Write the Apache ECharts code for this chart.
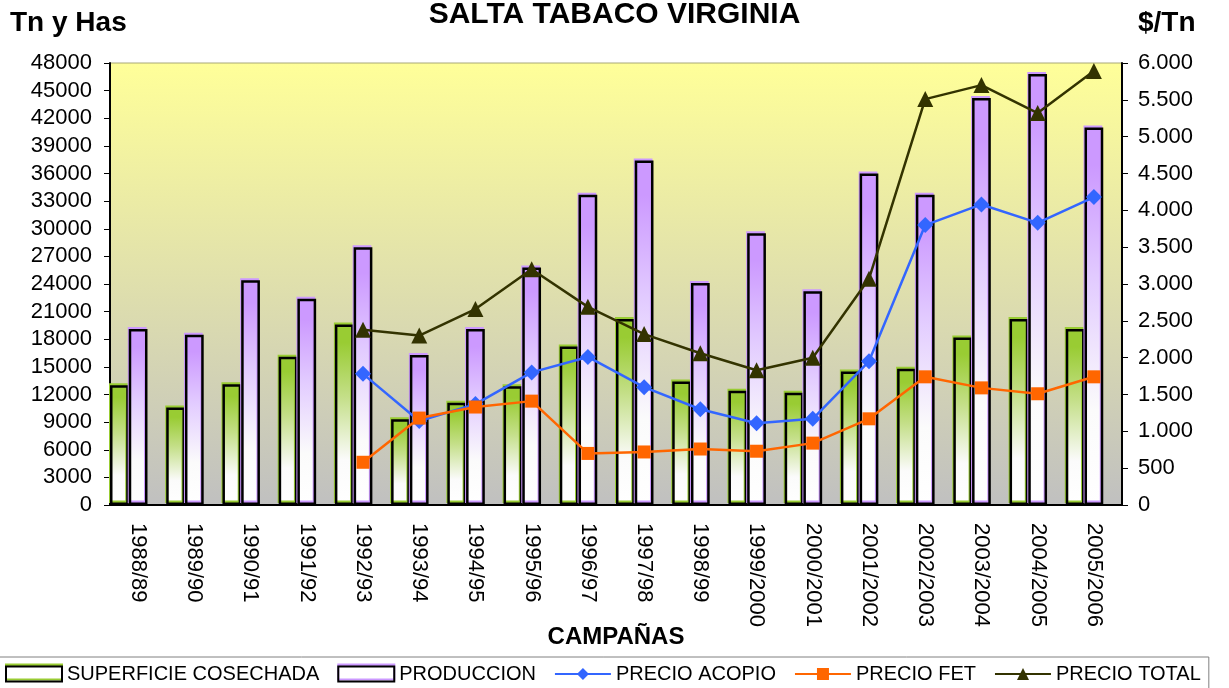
<!DOCTYPE html>
<html>
<head>
<meta charset="utf-8">
<script src="https://cdn.jsdelivr.net/npm/echarts@6/dist/echarts.min.js"></script>
<style>
  html, body { margin: 0; padding: 0; background: #fff; }
  #main { width: 1229px; height: 688px; }
</style>
</head>
<body>
<div id="main"></div>
<script>
// campañas y valores
var campanas = ['1988/89', '1989/90', '1990/91', '1991/92', '1992/93', '1993/94', '1994/95', '1995/96', '1996/97',
    '1997/98', '1998/99', '1999/2000', '2000/2001', '2001/2002', '2002/2003', '2003/2004', '2004/2005', '2005/2006'];
var superficie = [13000, 10600, 13100, 16100, 19600, 9300, 11100, 12900, 17200, 20200, 13400, 12400, 12200, 14500, 14800, 18200, 20200, 19100];
var produccion = [19100, 18500, 24400, 22400, 28000, 16300, 19100, 25800, 33700, 37400, 24100, 29500, 23200, 36000, 33700, 44200, 46800, 41000];
var precioAcopio = ['-', '-', '-', '-', 1780, 1140, 1370, 1800, 2010, 1600, 1300, 1110, 1170, 1950, 3800, 4080, 3830, 4180];
var precioFet = ['-', '-', '-', '-', 580, 1180, 1330, 1410, 700, 720, 760, 730, 840, 1170, 1740, 1590, 1510, 1740];
var precioTotal = ['-', '-', '-', '-', 2380, 2300, 2660, 3200, 2690, 2320, 2060, 1830, 2000, 3070, 5510, 5700, 5320, 5890];

var font = 'Liberation Sans, Arial, sans-serif';
var myChart = echarts.init(document.getElementById('main'));

function fade(c, soft) {
    return new echarts.graphic.LinearGradient(0, 0, 0, 1, [
        { offset: 0, color: c },
        { offset: 0.1, color: c },
        { offset: 0.4, color: soft },
        { offset: 0.75, color: '#fbfbfb' },
        { offset: 1, color: '#ffffff' }
    ]);
}

var option = {
    animation: false,
    textStyle: { fontFamily: font },
    title: [
        { text: 'SALTA TABACO VIRGINIA', left: 'center', top: 0, padding: 0,
          textStyle: { fontSize: 30, fontWeight: 'bold', color: '#000', fontFamily: font } },
        { text: 'Tn y Has', left: 10, top: 9, padding: 0,
          textStyle: { fontSize: 28, fontWeight: 'bold', color: '#000', fontFamily: font } },
        { text: '$/Tn', left: 1138, top: 9, padding: 0,
          textStyle: { fontSize: 28, fontWeight: 'bold', color: '#000', fontFamily: font } }
    ],
    legend: {
        left: -3,
        bottom: -4,
        padding: [7, 8, 8, 8],
        borderColor: '#808080',
        borderWidth: 1,
        itemWidth: 56,
        itemHeight: 15,
        itemGap: 18,
        textStyle: { fontSize: 20, color: '#000', fontFamily: font },
        data: [
            { name: 'SUPERFICIE COSECHADA', icon: 'rect',
              itemStyle: { color: '#fff', borderColor: '#000', borderWidth: 2, shadowColor: '#99cc33', shadowOffsetY: -2, shadowBlur: 0 } },
            { name: 'PRODUCCION', icon: 'rect',
              itemStyle: { color: '#fff', borderColor: '#000', borderWidth: 2, shadowColor: '#cc99ff', shadowOffsetY: -2, shadowBlur: 0 } },
            { name: 'PRECIO ACOPIO' },
            { name: 'PRECIO FET' },
            { name: 'PRECIO TOTAL' }
        ]
    },
    grid: {
        left: 110, right: 107, top: 63, bottom: 183,
        show: true,
        borderWidth: 1,
        borderColor: '#a8a878',
        backgroundColor: new echarts.graphic.LinearGradient(0, 0, 0, 1, [
            { offset: 0, color: '#ffff99' },
            { offset: 1, color: '#c0c0c0' }
        ])
    },
    xAxis: {
        type: 'category',
        data: campanas,
        name: 'CAMPAÑAS',
        nameLocation: 'middle',
        nameGap: 120,
        nameMoveOverlap: false,
        nameTextStyle: { fontSize: 24, fontWeight: 'bold', color: '#000', fontFamily: font },
        axisLine: { lineStyle: { color: '#000', width: 2 } },
        axisTick: { length: 7, lineStyle: { color: '#000' } },
        axisLabel: { rotate: -90, margin: 18, fontSize: 22, color: '#000', fontFamily: font }
    },
    yAxis: [
        {
            type: 'value', min: 0, max: 48000, interval: 3000,
            axisLine: { show: true, lineStyle: { color: '#000', width: 2 } },
            axisTick: { show: true, length: 6, lineStyle: { color: '#000' } },
            axisLabel: { margin: 18, fontSize: 22, color: '#000', fontFamily: font,
                         formatter: function (v) { return String(v); } },
            splitLine: { show: false }
        },
        {
            type: 'value', min: 0, max: 6000, interval: 500,
            axisLine: { show: true, lineStyle: { color: '#000', width: 2 } },
            axisTick: { show: true, length: 6, lineStyle: { color: '#000' } },
            axisLabel: {
                margin: 16, fontSize: 22, color: '#000', fontFamily: font,
                formatter: function (v) { return v >= 1000 ? Math.floor(v / 1000) + '.' + String(v % 1000).padStart(3, '0') : String(v); }
            },
            splitLine: { show: false }
        }
    ],
    series: [
        {
            name: 'SUPERFICIE COSECHADA', type: 'bar', data: superficie,
            barGap: '0%', barCategoryGap: '0%',
            itemStyle: { color: fade('#99cc33', '#c4df88'), borderColor: '#000', borderWidth: 2.5,
                         shadowColor: '#99cc33', shadowOffsetX: -1, shadowOffsetY: -2, shadowBlur: 0 }
        },
        {
            name: 'PRODUCCION', type: 'bar', data: produccion,
            barGap: '0%', barCategoryGap: '0%',
            itemStyle: { color: fade('#cc99ff', '#e2cbff'), borderColor: '#000', borderWidth: 2.5,
                         shadowColor: '#cc99ff', shadowOffsetX: -1, shadowOffsetY: -2, shadowBlur: 0 }
        },
        {
            // hueco vacio, como en el original
            name: 'hueco', type: 'bar', data: campanas.map(function () { return '-'; }),
            barGap: '0%', barCategoryGap: '0%'
        },
        {
            name: 'PRECIO ACOPIO', type: 'line', yAxisIndex: 1, data: precioAcopio,
            symbol: 'diamond', symbolSize: 16,
            lineStyle: { color: '#3366ff', width: 2.5 }, itemStyle: { color: '#3366ff' }
        },
        {
            name: 'PRECIO FET', type: 'line', yAxisIndex: 1, data: precioFet,
            symbol: 'rect', symbolSize: 13,
            lineStyle: { color: '#ff6600', width: 2.5 }, itemStyle: { color: '#ff6600' }
        },
        {
            name: 'PRECIO TOTAL', type: 'line', yAxisIndex: 1, data: precioTotal,
            symbol: 'triangle', symbolSize: 16,
            lineStyle: { color: '#333300', width: 2.5 }, itemStyle: { color: '#333300' }
        }
    ]
};
myChart.setOption(option);
</script>
</body>
</html>
